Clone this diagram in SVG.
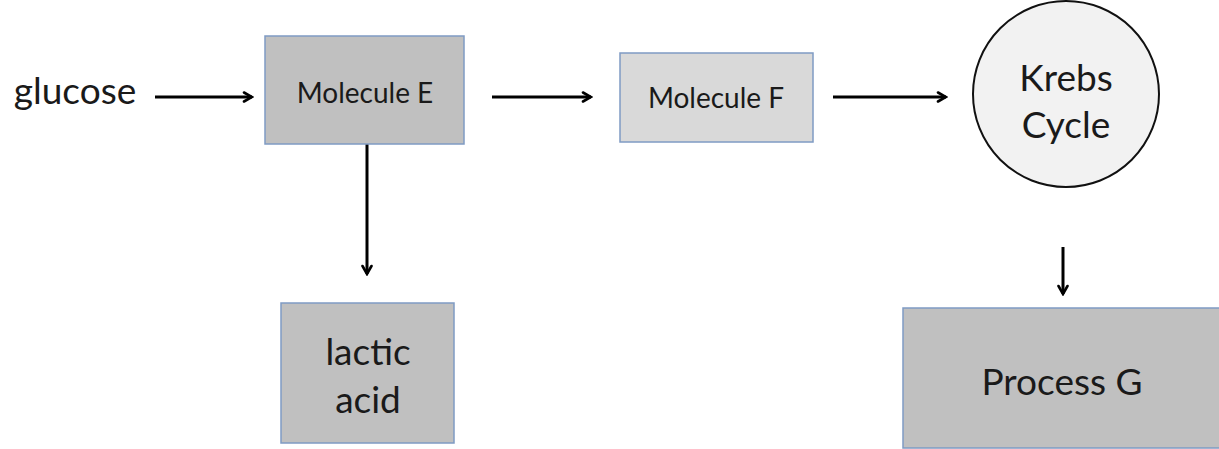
<svg xmlns="http://www.w3.org/2000/svg" width="1219" height="449" viewBox="0 0 1219 449">
<style>
.box{stroke:#7f9bc3;stroke-width:1.5}
.t{font-family:Lato,"Open Sans","Liberation Sans",sans-serif;fill:#1a1a1a;text-anchor:middle}
.c{stroke:#000;stroke-width:3;fill:none;marker-end:url(#ah)}
</style>
<defs>
<marker id="ah" viewBox="0 0 12 12" refX="10" refY="6" markerWidth="12" markerHeight="12" markerUnits="userSpaceOnUse" orient="auto">
<path d="M2,1.5 L10,6 L2,10.5" fill="none" stroke="#000" stroke-width="2.6" stroke-linecap="round" stroke-linejoin="miter"/>
</marker>
</defs>
<rect width="1219" height="449" fill="#fff"/>
<g id="connectors">
<line class="c" x1="155" y1="97" x2="252" y2="97"/>
<line class="c" x1="492" y1="97" x2="591" y2="97"/>
<line class="c" x1="833" y1="97" x2="946" y2="97"/>
<line class="c" x1="367" y1="144" x2="367" y2="274"/>
<line class="c" x1="1063" y1="247" x2="1063" y2="294"/>
</g>
<g id="glucose"><text class="t" x="75" y="104" font-size="37">glucose</text></g>
<g id="molE"><rect class="box" x="265" y="36" width="199" height="108" fill="#c0c0c0"/><text class="t" x="365" y="103" font-size="28">Molecule E</text></g>
<g id="molF"><rect class="box" x="620" y="53" width="193" height="89" fill="#d9d9d9"/><text class="t" x="716" y="108" font-size="28">Molecule F</text></g>
<g id="krebs"><circle cx="1066" cy="94" r="93" fill="#f2f2f2" stroke="#111" stroke-width="2"/><text class="t" x="1066" y="91" font-size="37">Krebs</text><text class="t" x="1066" y="138" font-size="37">Cycle</text></g>
<g id="lactic"><rect class="box" x="281" y="303" width="173" height="140" fill="#c0c0c0"/><text class="t" x="368" y="365" font-size="37">lactic</text><text class="t" x="368" y="413" font-size="37">acid</text></g>
<g id="procG"><rect class="box" x="903" y="308" width="320" height="140" fill="#c0c0c0"/><text class="t" x="1062" y="395" font-size="37">Process G</text></g>
</svg>
